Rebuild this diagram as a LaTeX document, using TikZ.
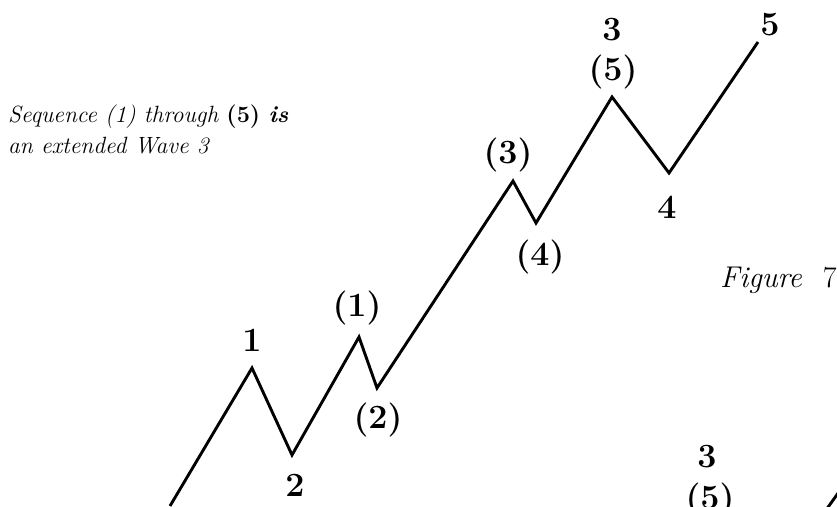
\documentclass[tikz,border=0pt]{standalone}
\usepackage{fontspec}
\begin{document}
\begin{tikzpicture}[x=1pt,y=-1pt,
  wave/.style={line width=2.9pt,line join=miter,line cap=butt},
  lab/.style={font=\fontsize{34}{34}\selectfont\bfseries,inner sep=0pt},
  note/.style={font=\fontsize{23.5}{28}\selectfont\itshape,inner sep=0pt}]
\useasboundingbox (0,0) rectangle (837,506);
\begin{scope}
\clip (0,0) rectangle (837,506);
\coordinate (s) at (170,506);
\coordinate (p1) at (252,368);
\coordinate (p2) at (292,455);
\coordinate (q1) at (359,337);
\coordinate (q2) at (377,388);
\coordinate (q3) at (513,181);
\coordinate (q4) at (536,223);
\coordinate (q5) at (612,97);
\coordinate (p4) at (669,173);
\coordinate (p5) at (758,42);
\draw[wave] (s) -- (p1) -- (p2) -- (q1) -- (q2) -- (q3) -- (q4) -- (q5) -- (p4) -- (p5);
\coordinate (b1) at (826,510);
\coordinate (b2) at (846,482);
\draw[wave] (b1) -- (b2);
\end{scope}
\node[lab] (l1) at (252,340) {1};
\node[lab] (l2) at (295,485) {2};
\node[lab] (lq1) at (357,308) {(1)};
\node[lab] (lq2) at (378,420) {(2)};
\node[lab] (lq3) at (508,155) {(3)};
\node[lab] (lq4) at (540,257) {(4)};
\node[lab] (l3) at (612,30) {3};
\node[lab] (lq5) at (613,72) {(5)};
\node[lab] (l4) at (667,207) {4};
\node[lab] (l5) at (770,25) {5};
\node[lab] (b3) at (707,457) {3};
\node[lab] (bq5) at (710,500) {(5)};
\node[note,anchor=base west] (seq1) at (8,122) {Sequence (1) through {\upshape\bfseries(5)} \textbf{is}};
\node[note,anchor=base west] (seq2) at (8,153) {an extended Wave 3};
\node[note,anchor=base west,font=\fontsize{30}{30}\selectfont\itshape] (fig) at (720,287) {Figure\ \ {\upshape 7}};
\end{tikzpicture}
\end{document}
